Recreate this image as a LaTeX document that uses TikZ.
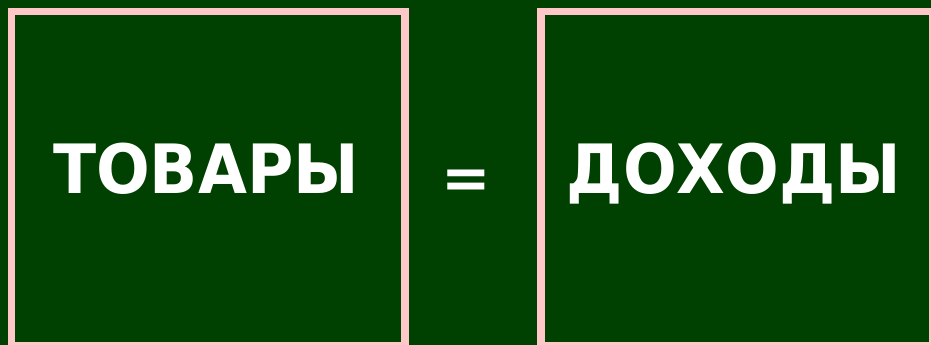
\documentclass[tikz,border=0pt]{standalone}
\usepackage{fontspec}
\setmainfont{DejaVu Sans}
\definecolor{bggreen}{RGB}{0,64,0}
\definecolor{pinkline}{RGB}{255,200,200}
\begin{document}
\begin{tikzpicture}[x=1pt,y=-1pt,
  panel/.style={draw=pinkline,line width=7.5pt},
  word/.style={text=white,font=\fontsize{68}{68}\selectfont\bfseries,anchor=base,inner sep=0pt}]
\fill[bggreen] (0,0) rectangle (931,345);
\useasboundingbox (0,0) rectangle (931,345);
\clip (0,0) rectangle (931,345);
\draw[panel] (11.5,11.5) rectangle (405,345.5);
\draw[panel] (541,11.5) rectangle (933,345.5);
\node[word] (left) at (206,193) {\scalebox{0.93}[1]{ТОВАРЫ}};
\node[word] (eq) at (466,198) {\scalebox{0.87}{=}};
\node[word] (right) at (734,193) {\scalebox{0.93}[1]{ДОХОДЫ}};
\end{tikzpicture}
\end{document}
